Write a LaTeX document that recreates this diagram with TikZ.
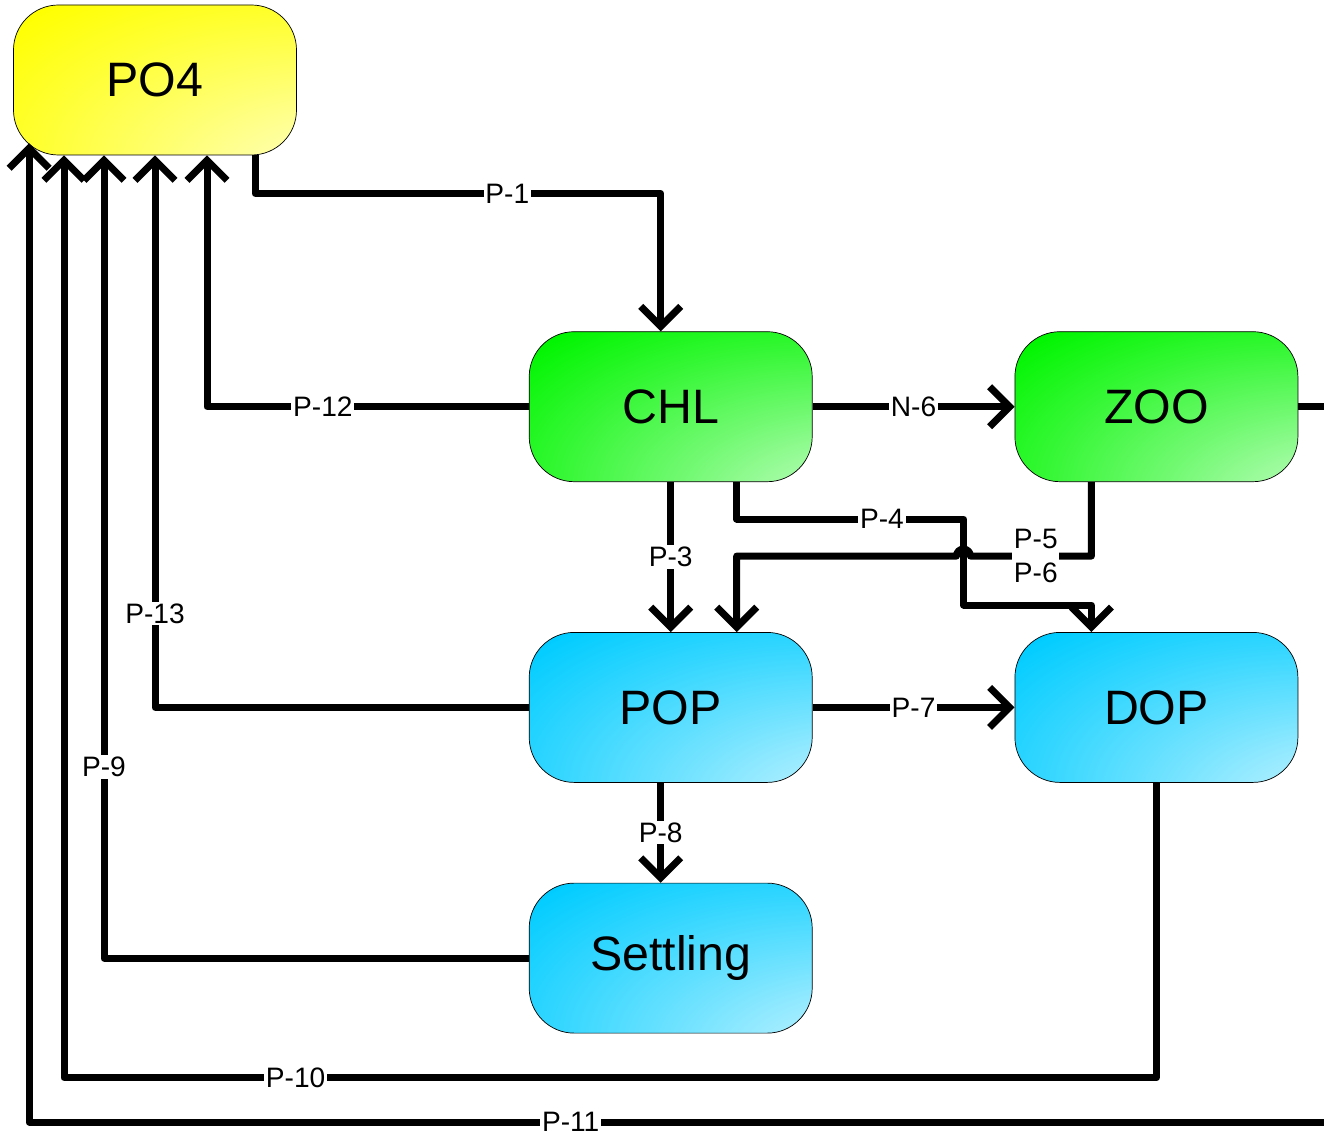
\documentclass[tikz,border=0pt]{standalone}
\usepackage{fontspec}
\setmainfont{Liberation Sans}
\usetikzlibrary{arrows.meta,calc,positioning}
\definecolor{chlgreen}{RGB}{0,245,0}
\definecolor{popblue}{RGB}{0,204,255}
\colorlet{gradcol}{yellow}
\pgfdeclareradialshading[gradcol]{cornerglow}{\pgfpoint{45bp}{-45bp}}{%
  color(0bp)=(gradcol!5!white); color(8bp)=(gradcol!15!white);
  color(30bp)=(gradcol!55!white); color(45bp)=(gradcol!80!white);
  color(58bp)=(gradcol); color(100bp)=(gradcol)}

\begin{document}
\begin{tikzpicture}[
  >={Straight Barb[length=0.4cm,width=0.8cm]},
  box/.style={draw, thin, rounded corners=0.9cm, minimum width=5.66cm,
              minimum height=3cm, align=center,
              font=\fontsize{27.5}{32}\selectfont},
  fillgrad/.style={/utils/exec={\colorlet{gradcol}{#1}}, shade, shading=cornerglow},
  flow/.style={->, line width=0.14cm, line join=round},
  lbl/.style={fill=white, inner sep=1pt, align=center,
              font=\fontsize{16}{19}\selectfont}
]
  \useasboundingbox (0,0) rectangle (26.48,-22.64);
  \clip (0,0) rectangle (26.48,-22.64);

  \node[box, fillgrad=yellow] (po4) at (3.10,-1.60) {PO4};
  \node[box, fillgrad=chlgreen, below right=3.52cm and 4.64cm of po4] (chl) {CHL};
  \node[box, fillgrad=chlgreen, right=4.04cm of chl] (zoo) {ZOO};
  \node[box, fillgrad=popblue, below=3cm of chl] (pop) {POP};
  \node[box, fillgrad=popblue, below=3cm of zoo] (dop) {DOP};
  \node[box, fillgrad=popblue, below=2cm of pop] (settle) {Settling};

  \draw[flow] ($(po4.south)+(2.0,0)$) -- ++(0,-0.76)
    -| node[lbl,pos=0.311] {P-1} ($(chl.north)+(-0.2,0)$);
  \draw[flow] (chl.west) -| node[lbl,pos=0.32] {P-12} ($(po4.south)+(1.04,0)$);
  \draw[flow] (chl.east) -- node[lbl] {N-6} (zoo.west);
  \draw[flow] (chl.south) -- node[lbl] {P-3} (pop.north);
  \draw[flow] ($(chl.south)+(1.32,0)$) -- ++(0,-0.74)
    -- node[lbl,pos=0.64] {P-4} ++(4.54,0) -- ++(0,-1.72)
    -| ($(dop.north)+(-1.30,0)$);
  \draw[flow] ($(zoo.south)+(-1.30,0)$) -- ++(0,-1.48)
    -- node[lbl,pos=0.46] {P-5\\P-6} ++(-2.42,0)
    arc[start angle=0, end angle=180, radius=0.14]
    -| ($(pop.north)+(1.32,0)$);
  \draw[flow] (pop.west) -| node[lbl,pos=0.585] {P-13} (po4.south);
  \draw[flow] (pop.east) -- node[lbl] {P-7} (dop.west);
  \draw[flow] ($(pop.south)+(-0.2,0)$) -- node[lbl] {P-8} ($(settle.north)+(-0.2,0)$);
  \draw[flow] (settle.west) -| node[lbl,pos=0.619] {P-9} ($(po4.south)+(-1.02,0)$);
  \draw[flow] (dop.south) -- ++(0,-5.90)
    -| node[lbl,pos=0.394] {P-10} ($(po4.south)+(-1.82,0)$);
  % loop leaves the frame on the right
  \coordinate (rim) at (27.0,-22.44);
  \draw[flow] (zoo.east) -| (rim)
    -| node[lbl,pos=0.295] {P-11} ($(po4.south west)+(0.32,0.24)$);
\end{tikzpicture}
\end{document}
